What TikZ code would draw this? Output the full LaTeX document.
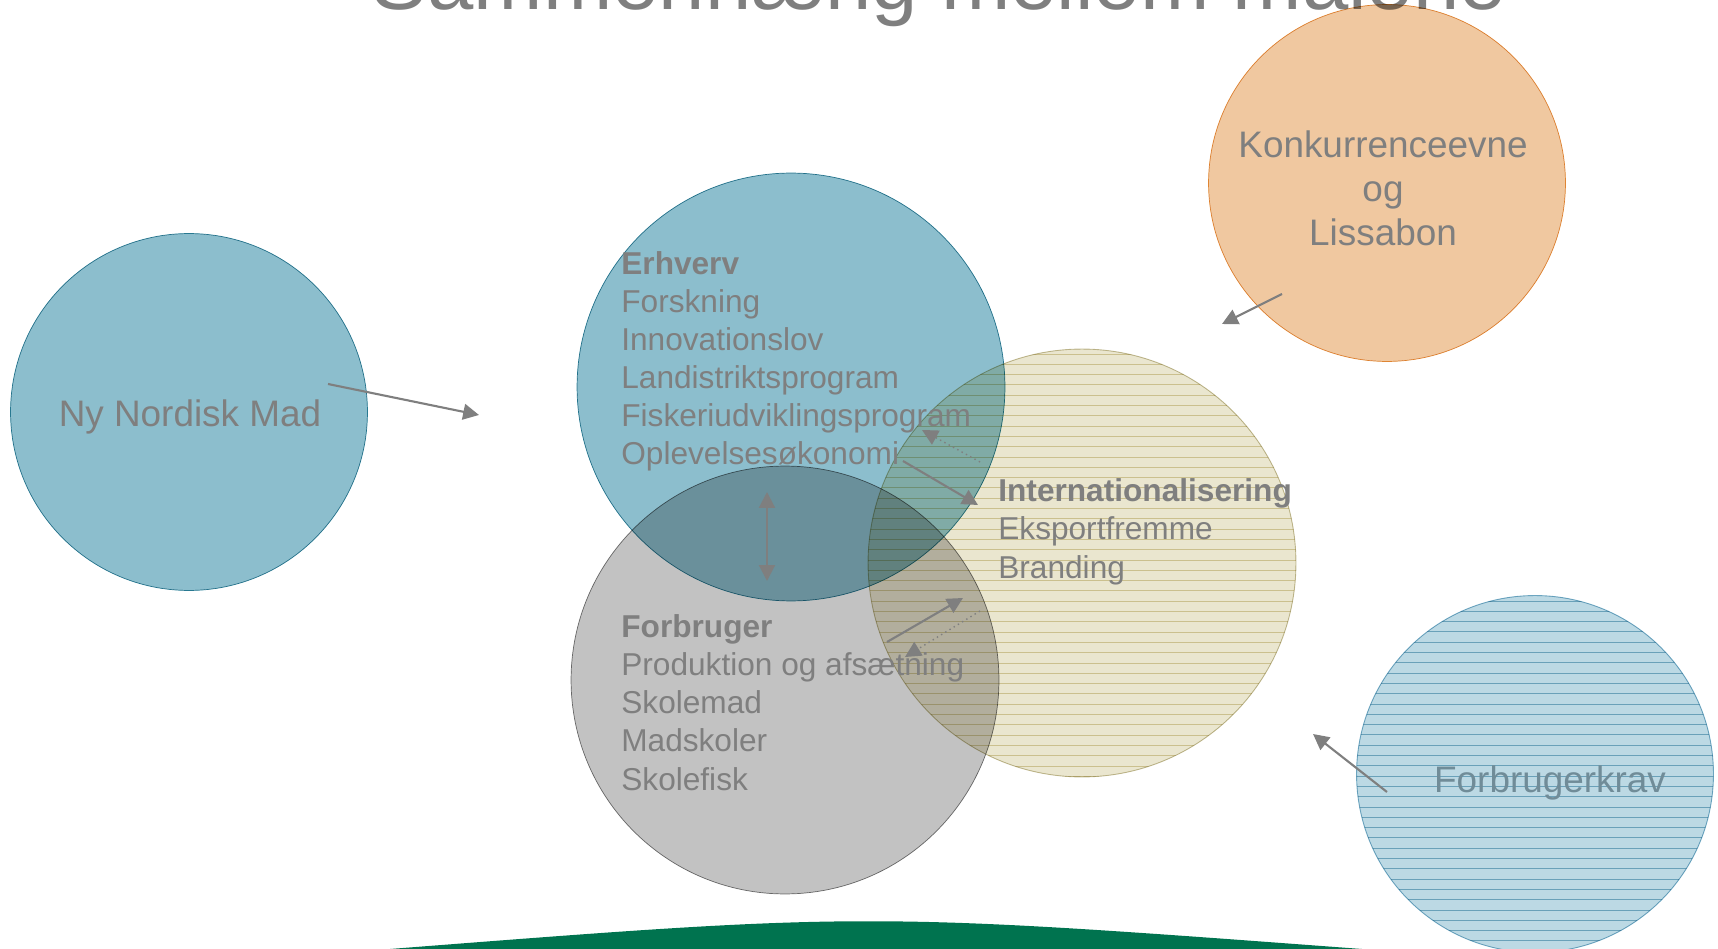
\documentclass[tikz,border=0pt]{standalone}
\usepackage{fontspec}
\setmainfont{Liberation Sans}
\usepackage{tikz}
\usetikzlibrary{arrows.meta, calc}
\definecolor{txtgray}{RGB}{127,127,127}
\definecolor{txtblue}{RGB}{112,140,152}
\definecolor{tealfill}{RGB}{140,190,205}
\definecolor{tealline}{RGB}{49,133,156}
\definecolor{grayfill}{RGB}{194,194,194}
\definecolor{grayline}{RGB}{120,120,120}
\definecolor{beigefill}{RGB}{234,230,207}
\definecolor{beigestripe}{RGB}{222,213,176}
\definecolor{beigeline}{RGB}{196,189,151}
\definecolor{orangefill}{RGB}{240,200,160}
\definecolor{orangeline}{RGB}{228,145,60}
\definecolor{bluefill}{RGB}{188,217,228}
\definecolor{bluestripe}{RGB}{145,190,208}
\definecolor{blueline}{RGB}{120,175,200}
\definecolor{bandgreen}{RGB}{0,115,79}
\tikzset{>={Triangle[length=9pt,width=9pt]}}

\begin{document}
\begin{tikzpicture}[x=0.02cm, y=-0.02cm,
    bigcirc/.style={circle, minimum size=8.56cm, inner sep=0pt},
    smallcirc/.style={circle, minimum size=7.14cm, inner sep=0pt},
    conn/.style={draw=txtgray, line width=1.2pt},
    dotconn/.style={draw=txtgray, line width=0.8pt, dotted},
    blocktxt/.style={text=txtgray, align=left, inner sep=0pt, anchor=base west,
      font=\fontsize{18}{21.7}\selectfont},
    bubbletxt/.style={text=txtgray, align=center, inner sep=0pt, anchor=base,
      font=\fontsize{21}{25.3}\selectfont}]
  \useasboundingbox (0,0) rectangle (1718,949);

  % title, cut by the top edge
  \node[text=txtgray, anchor=base, inner sep=0pt, font=\fontsize{47.4}{50}\selectfont]
    (title) at (939,10) {Sammenhæng mellem målene};

  % circles
  \begin{scope}[blend mode=multiply]
    \node[smallcirc, fill=tealfill, draw=tealline] (nymad) at (189,412) {};
    \node[smallcirc, fill=orangefill, draw=orangeline] (konk) at (1387,183) {};
    \node[bigcirc, fill=beigefill] (intl) at (1082,563) {};
    \begin{scope}
      \clip (intl.center) circle [radius=4.28cm];
      \foreach \k in {0,...,42}
        \draw[beigestripe, line width=0.5pt] (860,354+\k*10.3) -- (1300,354+\k*10.3);
    \end{scope}
    \draw[beigeline, line width=0.5pt] (intl.center) circle [radius=4.28cm];
    \node[smallcirc, fill=bluefill] (krav) at (1535,774) {};
    \begin{scope}
      \clip (krav.center) circle [radius=3.57cm];
      \foreach \k in {0,...,35}
        \draw[bluestripe, line width=0.5pt] (1350,601+\k*10.3) -- (1720,601+\k*10.3);
    \end{scope}
    \draw[blueline, line width=0.5pt] (krav.center) circle [radius=3.57cm];
    \node[bigcirc, fill=grayfill, draw=grayline] (forbr) at (785,680) {};
    \node[bigcirc, fill=tealfill, draw=tealline] (erhv) at (791,387) {};
  \end{scope}

  % bottom band
  \fill[bandgreen] (390,949) .. controls (866,912) .. (1362,949) -- cycle;

  % texts (base anchor sits on the last line)
  \node[bubbletxt] (nymadtxt) at (190,427) {Ny Nordisk Mad};
  \node[bubbletxt] (konktxt) at (1383,246) {Konkurrenceevne\\og\\Lissabon};
  \node[bubbletxt, text=txtblue] (kravtxt) at (1550,792) {Forbrugerkrav};
  \node[blocktxt] (erhvtxt) at (621,465)
    {\textbf{Erhverv}\\Forskning\\Innovationslov\\Landistriktsprogram\\Fiskeriudviklingsprogram\\Oplevelsesøkonomi};
  \node[blocktxt] (intltxt) at (998,578)
    {\textbf{Internationalisering}\\Eksportfremme\\Branding};
  \node[blocktxt] (forbrtxt) at (621,790)
    {\textbf{Forbruger}\\Produktion og afsætning\\Skolemad\\Madskoler\\Skolefisk};

  % arrows
  \coordinate (nymadA) at (328,384);
  \coordinate (nymadB) at (479,415);
  \coordinate (konkA) at (1282,294);
  \coordinate (konkB) at (1222,324);
  \coordinate (kravA) at (1387,792);
  \coordinate (kravB) at (1313,734);
  \coordinate (midA) at (767,492);
  \coordinate (midB) at (767,581);
  \coordinate (oplA) at (903,461);
  \coordinate (oplB) at (978,505);
  \coordinate (backA) at (980,462);
  \coordinate (backB) at (922,430);
  \coordinate (prodA) at (887,642);
  \coordinate (prodB) at (963,598);
  \coordinate (back2A) at (980,611);
  \coordinate (back2B) at (905,657);
  \draw[conn, ->] (nymadA) -- (nymadB);
  \draw[conn, ->] (konkA) -- (konkB);
  \draw[conn, ->] (kravA) -- (kravB);
  \draw[conn, <->] (midA) -- (midB);
  \draw[conn, ->] (oplA) -- (oplB);
  \draw[conn, ->] (prodA) -- (prodB);
  \draw[dotconn, ->] (backA) -- (backB);
  \draw[dotconn, ->] (back2A) -- (back2B);
\end{tikzpicture}
\end{document}
